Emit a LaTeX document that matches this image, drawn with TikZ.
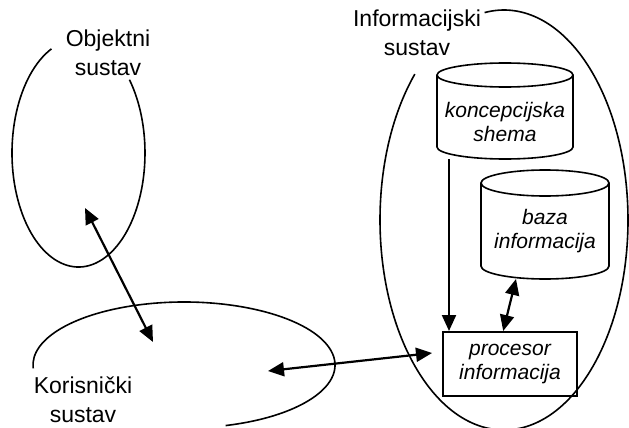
\documentclass[tikz,border=0pt]{standalone}
\usepackage{fontspec}
\setmainfont{Liberation Sans}
\usetikzlibrary{arrows.meta,calc}
\begin{document}
\begin{tikzpicture}[x=1pt,y=-1pt,
  outline/.style={line width=1.6pt},
  conn/.style={line width=2.2pt,{Triangle[length=16pt,width=14pt]}-{Triangle[length=16pt,width=14pt]}},
  oneway/.style={line width=2.2pt,-{Triangle[length=16pt,width=14pt]}},
  lbl/.style={font=\fontsize{23}{29}\selectfont,align=center,inner sep=0pt},
  itl/.style={font=\fontsize{21}{24}\selectfont\itshape,align=center,inner sep=0pt}]
\useasboundingbox (0,0) rectangle (629,428);
% Objektni sustav ellipse (open at top right)
\draw[outline] ([shift={(114:66.5pt and 114pt)}]78.5,153) arc[start angle=114,end angle=400,x radius=66.5pt,y radius=114pt];
\node[lbl] (objl) at (108,53) {Objektni\\sustav};
% Korisnicki sustav ellipse
\draw[outline] ([shift={(286:151pt and 63pt)}]184,365) arc[start angle=286,end angle=543,x radius=151pt,y radius=63pt];
\node[lbl] (korl) at (83,400) {Korisnički\\sustav};
% Informacijski sustav ellipse
\draw[outline] ([shift={(136:124pt and 210pt)}]504,220) arc[start angle=136,end angle=459,x radius=124pt,y radius=210pt];
\node[lbl] (infl) at (417,33) {Informacijski\\sustav};
% koncepcijska shema cylinder
\draw[outline] (505,75) ellipse[x radius=68pt,y radius=12pt];
\draw[outline] (437,75) -- (437,147) arc[start angle=180,end angle=360,x radius=68pt,y radius=12pt] -- (573,75);
\node[itl] (ks) at (505,122) {koncepcijska\\shema};
% baza informacija cylinder
\draw[outline] (545,183) ellipse[x radius=64pt,y radius=13pt];
\draw[outline] (481,183) -- (481,266) arc[start angle=180,end angle=360,x radius=64pt,y radius=13pt] -- (609,183);
\node[itl] (bi) at (545,231) {baza\\informacija};
% procesor informacija box
\node[itl,draw,line width=2pt,minimum width=134pt,minimum height=64pt] (pi) at (510,364) {procesor\\informacija};
% connector end points
\coordinate (ksb) at (449,159);
\coordinate (bib) at (516,279);
\coordinate (pit) at ($(pi.north west)!0.45!(pi.north east)$);
\coordinate (objin) at (85,208);
\coordinate (korin) at (153,342);
\coordinate (korc) at (268,371);
\coordinate (pil) at ([xshift=-10pt,yshift=11pt]pi.west);
% connectors
\draw[oneway] (ksb) -- (ksb |- pi.north);
\draw[conn] (bib) -- (pit);
\draw[conn] (objin) -- (korin);
\draw[conn] (korc) -- (pil);
\end{tikzpicture}
\end{document}
